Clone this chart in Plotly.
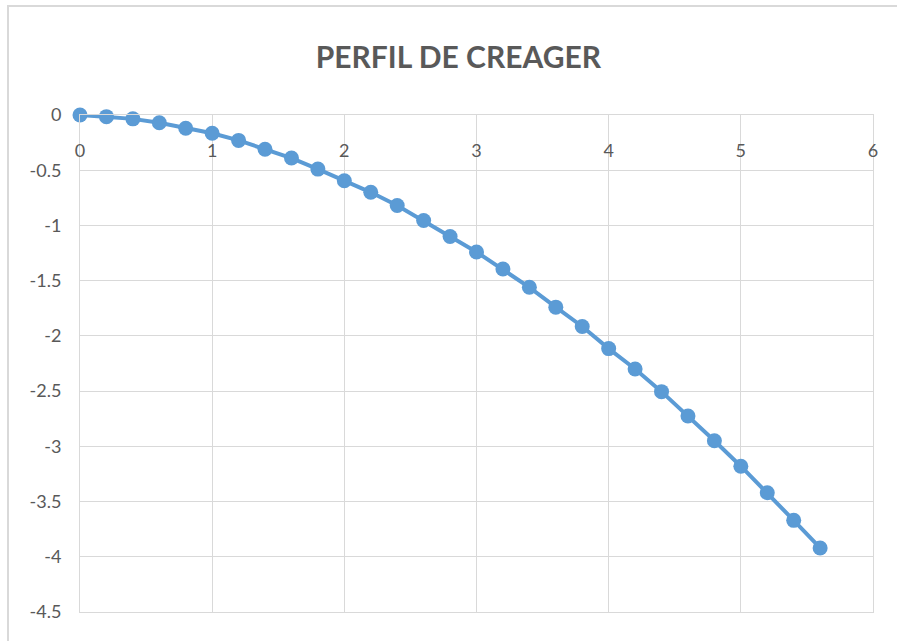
import plotly.graph_objects as go

# Creager spillway crest profile (x horizontal distance, y depth below crest)
x_vals = [0.0, 0.2, 0.4, 0.6, 0.8, 1.0, 1.2, 1.4, 1.6, 1.8, 2.0, 2.2, 2.4, 2.6, 2.8,
          3.0, 3.2, 3.4, 3.6, 3.8, 4.0, 4.2, 4.4, 4.6, 4.8, 5.0, 5.2, 5.4, 5.6]
y_vals = [0.0, -0.015, -0.035, -0.07, -0.12, -0.165, -0.23, -0.31, -0.39, -0.49,
          -0.595, -0.70, -0.82, -0.955, -1.10, -1.24, -1.395, -1.56, -1.74, -1.915,
          -2.115, -2.30, -2.505, -2.725, -2.95, -3.18, -3.42, -3.67, -3.92]

x_ticks = [0, 1, 2, 3, 4, 5, 6]
y_ticks = [0, -0.5, -1, -1.5, -2, -2.5, -3, -3.5, -4, -4.5]
y_tick_text = ["0", "-0.5", "-1", "-1.5", "-2", "-2.5", "-3", "-3.5", "-4", "-4.5"]

BLUE = "#5b9bd5"
GRID = "#d9d9d9"
TEXT = "#595959"
FONT = "Lato"

fig = go.Figure(
    go.Scatter(
        x=x_vals, y=y_vals, mode="lines+markers",
        line=dict(color=BLUE, width=4),
        marker=dict(color=BLUE, size=15),
        cliponaxis=False,
        showlegend=False,
    )
)

fig.update_layout(
    width=897, height=641,
    margin=dict(l=80, r=24, t=115, b=29),
    paper_bgcolor="white", plot_bgcolor="white",
    font=dict(family=FONT, color=TEXT),
    title=dict(
        text="<b>PERFIL DE CREAGER</b>",
        font=dict(family=FONT, size=30, color=TEXT),
        x=0.511, xref="container", xanchor="center",
        y=1 - 57 / 641, yref="container", yanchor="middle",
    ),
    shapes=[dict(
        type="rect", xref="paper", yref="paper",
        x0=(8 - 80) / 793, x1=(905 - 80) / 793,
        y0=(612 - 6) / 497, y1=(612 - 650) / 497,
        line=dict(color=GRID, width=2), layer="below",
    )],
)

fig.update_xaxes(
    range=[0, 6], tickvals=x_ticks,
    side="top", ticklabelposition="inside", ticklabelstandoff=30,
    ticklabeloverflow="allow",
    showgrid=True, gridcolor=GRID, gridwidth=1,
    showline=True, linecolor=GRID, linewidth=1, mirror=True,
    zeroline=False, ticks="",
    tickfont=dict(family=FONT, size=18, color=TEXT),
)
fig.update_yaxes(
    range=[-4.5, 0], tickvals=y_ticks, ticktext=y_tick_text,
    ticklabeloverflow="allow",
    showgrid=True, gridcolor=GRID, gridwidth=1,
    showline=True, linecolor=GRID, linewidth=1, mirror=True,
    zeroline=False, ticks="", ticklabelstandoff=14,
    tickfont=dict(family=FONT, size=18, color=TEXT),
)

fig.write_html("out.html")
